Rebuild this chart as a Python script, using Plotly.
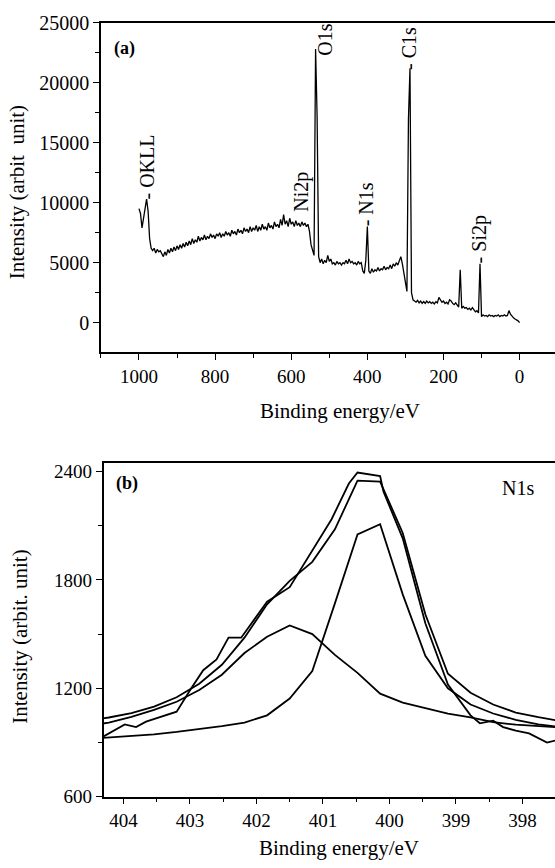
import plotly.graph_objects as go

# ---------------- data: panel (a) survey spectrum ----------------
survey_energy = list(range(1000, -1, -4))  # binding energy grid (eV)
survey_intensity = [
    # 1000 -> 904
    9500, 9100, 7900, 8700, 9600, 10300, 9300, 7000, 6200, 6000, 6200, 5800, 6100,
    5900, 6000, 5700, 5500, 5900, 5600, 6100, 5800, 6200, 5900, 6300, 6000,
    # 900 -> 804
    6400, 6100, 6500, 6200, 6600, 6300, 6700, 6400, 6800, 6500, 7000, 6600, 6900,
    6700, 7200, 6800, 7100, 6900, 7300, 6900, 7200, 7000, 7400, 7100, 7300,
    # 800 -> 704
    7000, 7400, 7200, 7500, 7100, 7400, 7200, 7600, 7300, 7500, 7200, 7700, 7400,
    7600, 7300, 7800, 7500, 7700, 7400, 7900, 7600, 7800, 7500, 8000, 7600,
    # 700 -> 604
    7900, 7700, 8100, 7600, 8000, 7700, 8200, 7800, 8000, 7700, 8300, 7900, 8100,
    7800, 8400, 8000, 8200, 7900, 8600, 8100, 9000, 8200, 8500, 8000, 8700,
    # 600 -> 504
    8200, 8400, 8000, 8500, 8100, 8300, 8000, 8400, 8100, 8300, 8000, 8200, 7600,
    6500, 6000, 5600, 22800, 17200, 5500, 5000, 5300, 4900, 5200, 5000, 5600,
    # 500 -> 404
    5100, 5300, 4900, 5000, 4800, 5100, 4900, 5000, 4800, 5000, 4900, 5200, 4900,
    5300, 5000, 5100, 4900, 5000, 4800, 5100, 4900, 5000, 4300, 4100, 5200,
    # 400 -> 304
    8000, 4300, 4100, 4500, 4200, 4400, 4300, 4600, 4300, 4500, 4400, 4700, 4400,
    4600, 4500, 4800, 4500, 4900, 4700, 5000, 4800, 5100, 5500, 4900, 4100,
    # 300 -> 204
    3200, 2600, 17000, 21200, 2500, 1900, 1800, 1700, 1850, 1650, 1800, 1600, 1750,
    1600, 1800, 1650, 1750, 1600, 1700, 1550, 1750, 1650, 2100, 1900, 1700,
    # 200 -> 104
    1800, 1600, 1700, 1550, 1900, 1800, 1600, 1500, 1650, 1450, 1300, 4400, 1200,
    1350, 1200, 1250, 1100, 1200, 1050, 1250, 1100, 900, 1000, 800, 4900,
    # 100 -> 0
    500, 650, 550, 600, 500, 650, 550, 600, 500, 600, 550, 650, 500,
    600, 550, 650, 550, 600, 1000, 700, 500, 400, 300, 250, 150, 0,
]
assert len(survey_energy) == len(survey_intensity)

survey_xticks = [1000, 800, 600, 400, 200, 0]
survey_yticks = [0, 5000, 10000, 15000, 20000, 25000]

# ---------------- data: panel (b) N1s high resolution ----------------
fit_energy = [404.56, 404.22, 403.88, 403.54, 403.20, 402.86, 402.52, 402.18,
              401.84, 401.50, 401.16, 400.82, 400.48, 400.14, 399.80, 399.46,
              399.12, 398.78, 398.44, 398.10, 397.76, 397.42, 397.08, 396.74]
component1 = [990, 1010, 1042, 1080, 1125, 1190, 1275, 1395,
              1485, 1548, 1500, 1385, 1285, 1170, 1120, 1088,
              1060, 1038, 1012, 998, 988, 978, 972, 966]
component2 = [918, 926, 935, 945, 958, 972, 990, 1010,
              1050, 1143, 1295, 1670, 2052, 2109, 1720, 1380,
              1200, 1110, 1060, 1025, 1000, 985, 975, 968]
envelope = [1020, 1038, 1062, 1098, 1150, 1225, 1330, 1480,
            1665, 1795, 1900, 2080, 2350, 2345, 2060, 1610,
            1280, 1175, 1110, 1065, 1040, 1018, 1005, 995]

raw_energy = [404.40, 404.29, 403.98, 403.81, 403.66, 403.20, 402.98, 402.80,
              402.60, 402.42, 402.23, 401.84, 401.50, 401.19, 400.87, 400.61,
              400.48, 400.14, 400.09, 399.80, 399.46, 399.12, 398.78, 398.64,
              398.44, 398.29, 398.10, 397.90, 397.63, 397.40, 397.10]
raw_intensity = [930, 935, 1000, 985, 1015, 1070, 1200, 1300,
                 1360, 1480, 1480, 1679, 1760, 1948, 2136, 2334,
                 2395, 2375, 2290, 2030, 1560, 1220, 1050, 1006,
                 1020, 985, 965, 950, 899, 920, 935]

n1s_xticks = [404, 403, 402, 401, 400, 399, 398]
n1s_yticks = [600, 1200, 1800, 2400]

# ---------------- layout helpers (pixel -> paper) ----------------
W, H = 555, 868
L, R, T, B = 100, 0, 0, 0


def px(x):
    return (x - L) / (W - L - R)


def py(y):
    return 1 - (y - T) / (H - T - B)


FONT = "Liberation Serif, Times New Roman, serif"
BLACK = "black"

fig = go.Figure()
fig.add_trace(go.Scatter(x=survey_energy, y=survey_intensity, mode="lines",
                         line=dict(color=BLACK, width=1.3),
                         xaxis="x", yaxis="y", showlegend=False))

for yy in (envelope, component1, component2):
    fig.add_trace(go.Scatter(x=fit_energy, y=yy, mode="lines",
                             line=dict(color=BLACK, width=1.8),
                             xaxis="x2", yaxis="y2", showlegend=False))
fig.add_trace(go.Scatter(x=raw_energy, y=raw_intensity, mode="lines",
                         line=dict(color=BLACK, width=1.8),
                         xaxis="x2", yaxis="y2", showlegend=False))


def axis_style(size):
    return dict(showgrid=False, zeroline=False, showline=True,
                linecolor=BLACK, linewidth=1.5, ticks="outside",
                ticklen=6, tickwidth=1.2, tickcolor=BLACK,
                tickfont=dict(family=FONT, size=size, color=BLACK))


def minor(dt, t0):
    return dict(dtick=dt, tick0=t0, ticks="outside", ticklen=4,
                tickcolor=BLACK, tickwidth=1.2)


fig.update_layout(
    width=W, height=H,
    margin=dict(l=L, r=R, t=T, b=B),
    paper_bgcolor="white", plot_bgcolor="white",
    font=dict(family=FONT, color=BLACK),
    xaxis=dict(domain=[px(100.9), 1], anchor="y", range=[1100, -93],
               tickvals=survey_xticks, ticktext=[str(v) for v in survey_xticks],
               mirror=True, minor=minor(100, 0), **axis_style(19)),
    yaxis=dict(domain=[py(350), py(12)], anchor="x", range=[-2460, 25000],
               tickvals=survey_yticks, ticktext=[str(v) for v in survey_yticks],
               minor=minor(2500, 0), **axis_style(20)),
    xaxis2=dict(domain=[px(103.5), 1], anchor="y2", range=[404.3, 397.51],
                tickvals=n1s_xticks, ticktext=[str(v) for v in n1s_xticks],
                mirror=True, minor=minor(0.5, 398), **axis_style(19)),
    yaxis2=dict(domain=[py(806), py(463.3)], anchor="x2", range=[600, 2450],
                tickvals=n1s_yticks, ticktext=[str(v) for v in n1s_yticks],
                minor=minor(300, 600), **axis_style(19)),
)

ann = []


def add_text(text, x, y, size=20, angle=0, bold=False, xanchor="center", yanchor="middle"):
    if bold:
        text = "<b>" + text + "</b>"
    ann.append(dict(text=text, x=px(x), y=py(y), xref="paper", yref="paper",
                    showarrow=False, textangle=angle, xanchor=xanchor,
                    yanchor=yanchor, font=dict(family=FONT, size=size, color=BLACK)))


# axis titles
add_text("Binding energy/eV", 340, 410, size=21)
add_text("Binding energy/eV", 339, 859, size=21)
add_text("Intensity (arbit\u00a0 unit)", 17, 186, size=21, angle=-90)
add_text("Intensity (arbit. unit)", 20, 642, size=21, angle=-90)

# panel labels
add_text("(a)", 124, 38, size=18, bold=True)
add_text("(b)", 127, 485, size=18, bold=True)
add_text("N1s", 518, 489, size=20)

# peak labels (rotated)
add_text("- OKLL", 147, 196, angle=-90, yanchor="bottom")
add_text("Ni2p", 302, 208, angle=-90, yanchor="bottom")
add_text("O1s", 325, 48, angle=-90, yanchor="bottom")
add_text("- C1s", 409, 63, angle=-90, yanchor="bottom")
add_text("- N1s", 366, 223, angle=-90, yanchor="bottom")
add_text("- Si2p", 479, 261, angle=-90, yanchor="bottom")

fig.update_layout(annotations=ann)

fig.write_html("out.html", config={"displayModeBar": False},
               post_script="document.body.style.margin='0';")
